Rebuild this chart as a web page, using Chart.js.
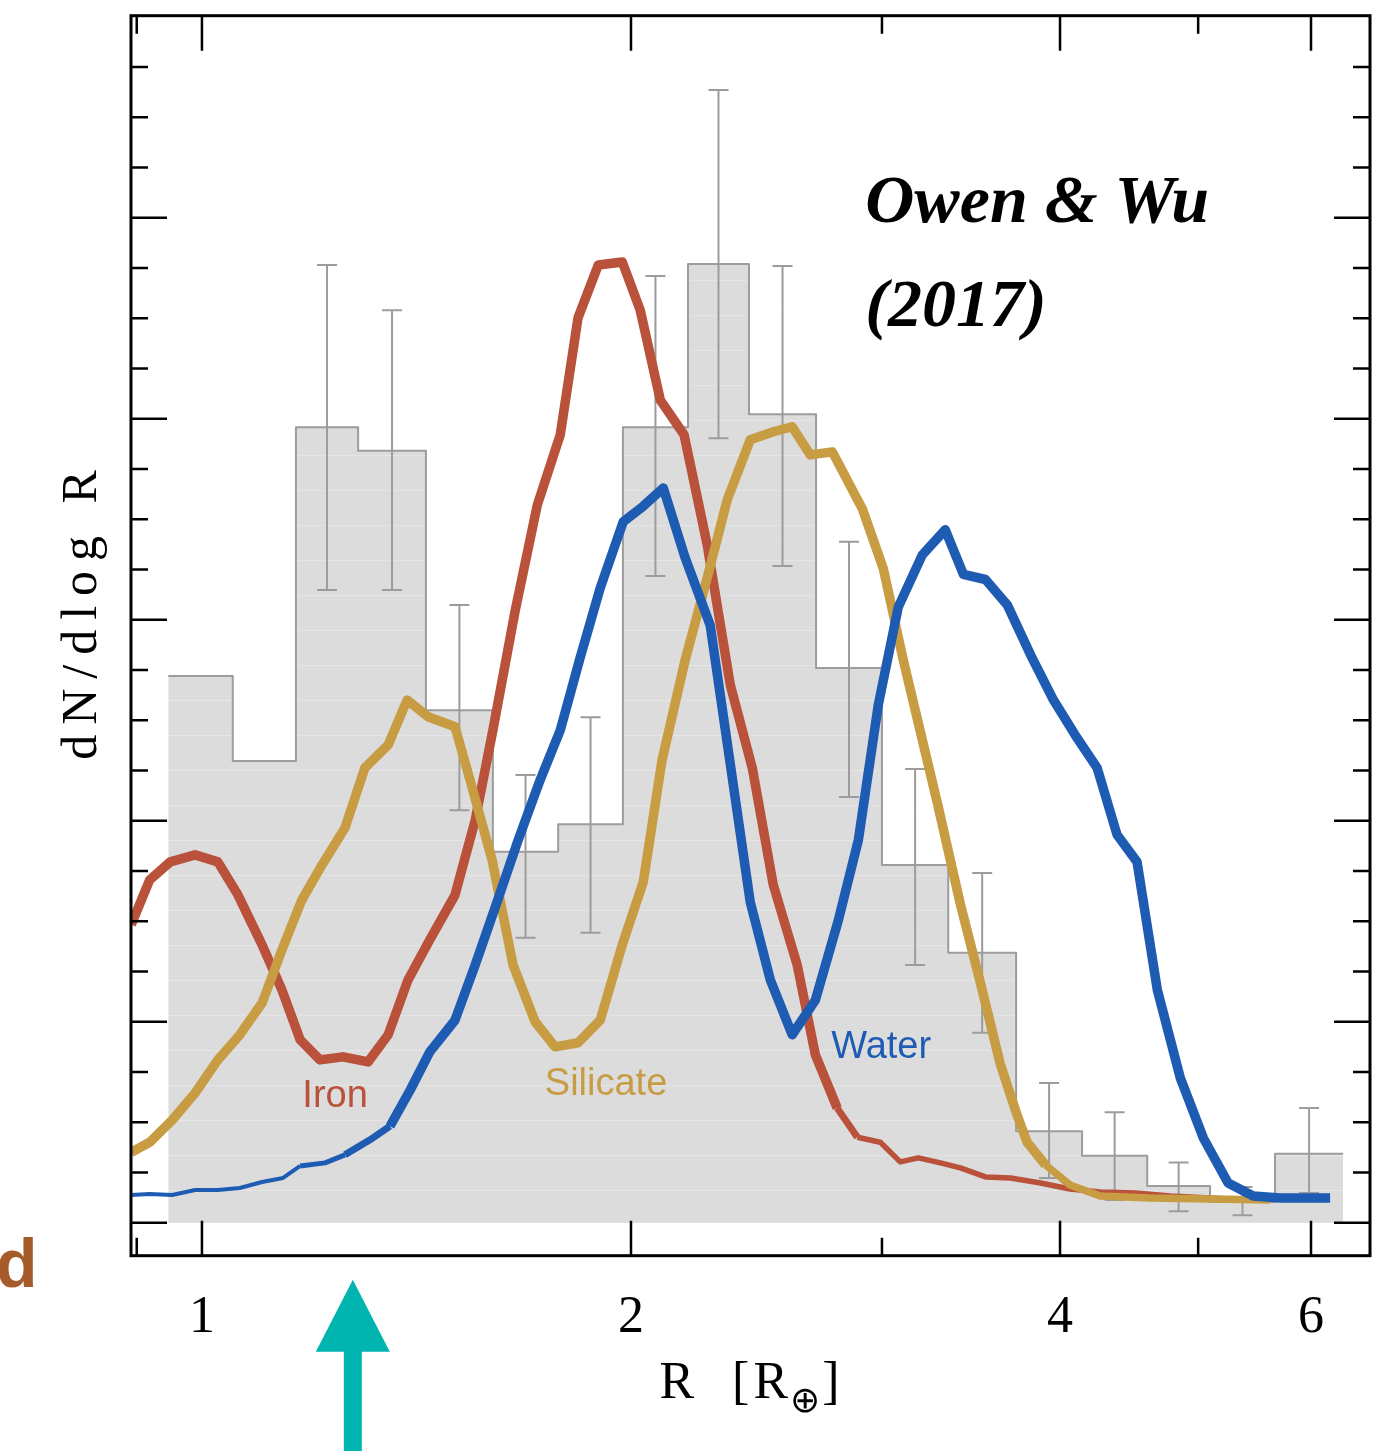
<!DOCTYPE html>
<html>
<head>
<meta charset="utf-8">
<title>Radius valley - Owen & Wu (2017)</title>
<script src="https://cdn.jsdelivr.net/npm/chart.js@4.4.1/dist/chart.umd.min.js"></script>
<style>
    html, body {
        margin: 0;
        padding: 0;
        background: #fff;
    }
    .wrap {
        width: 1393px;
        height: 1451px;
    }
</style>
</head>
<body>
<div class="wrap"><canvas id="radiusChart" width="1393" height="1451"></canvas></div>

<script>
// observed histogram, R in Earth radii
const binEdges = [0.947, 1.051, 1.164, 1.287, 1.436, 1.600, 1.778, 1.974, 2.193, 2.420, 2.697, 3.000, 3.339, 3.726, 4.145, 4.605, 5.097, 5.661, 6.320];
const binHeights = [10.88, 9.19, 15.83, 15.36, 10.20, 7.38, 7.93, 15.83, 19.08, 16.09, 11.04, 7.12, 5.37, 1.82, 1.33, 0.73, 0.41, 1.37];
const errLow = [null, null, 12.59, 12.59, 8.21, 5.67, 5.77, 12.87, 15.61, 13.07, 8.47, 5.13, 3.78, 0.89, 0.45, 0.23, 0.15, 0.59];
const errHigh = [null, null, 19.06, 18.16, 12.29, 8.91, 10.06, 18.84, 22.54, 19.04, 13.55, 9.03, 6.96, 2.78, 2.20, 1.20, 0.71, 2.28];

// model curves
const ironR = [0.892, 0.919, 0.950, 0.989, 1.026, 1.060, 1.102, 1.138, 1.172, 1.210, 1.256, 1.308, 1.351, 1.395, 1.445, 1.505, 1.555, 1.600, 1.659, 1.719, 1.784, 1.836, 1.897, 1.972, 2.030, 2.097, 2.179, 2.262, 2.348, 2.433, 2.517, 2.616, 2.694, 2.791, 2.883, 2.992, 3.090, 3.182, 3.297, 3.405, 3.546, 3.692, 3.876, 4.065, 4.268, 4.516, 4.780, 5.265, 5.617];
const ironN = [5.93, 6.82, 7.18, 7.32, 7.18, 6.52, 5.53, 4.63, 3.64, 3.24, 3.30, 3.20, 3.74, 4.83, 5.63, 6.52, 8.01, 9.80, 12.19, 14.28, 15.68, 18.01, 19.06, 19.12, 18.16, 16.37, 15.68, 13.49, 10.70, 9.05, 6.72, 5.13, 3.34, 2.28, 1.70, 1.60, 1.21, 1.29, 1.19, 1.09, 0.91, 0.89, 0.79, 0.67, 0.61, 0.59, 0.53, 0.47, 0.45];

const silicateR = [0.892, 0.919, 0.953, 0.989, 1.026, 1.063, 1.102, 1.138, 1.175, 1.214, 1.260, 1.301, 1.351, 1.393, 1.441, 1.505, 1.542, 1.598, 1.653, 1.713, 1.769, 1.836, 1.903, 1.972, 2.040, 2.103, 2.183, 2.262, 2.336, 2.425, 2.517, 2.595, 2.672, 2.769, 2.907, 3.007, 3.105, 3.281, 3.405, 3.516, 3.631, 3.732, 3.793, 3.907, 4.065, 4.268, 4.628, 5.617];
const silicateN = [1.40, 1.60, 2.04, 2.58, 3.24, 3.74, 4.37, 5.43, 6.42, 7.12, 7.86, 9.05, 9.51, 10.40, 10.07, 9.87, 8.81, 7.22, 5.13, 4.00, 3.50, 3.58, 4.03, 5.53, 6.78, 9.21, 11.20, 12.83, 14.38, 15.58, 15.74, 15.84, 15.28, 15.34, 14.20, 13.01, 11.20, 8.35, 6.34, 4.79, 3.17, 2.14, 1.60, 1.15, 0.75, 0.53, 0.49, 0.45];

const waterR = [0.892, 0.919, 0.953, 0.989, 1.026, 1.063, 1.102, 1.140, 1.172, 1.220, 1.260, 1.312, 1.355, 1.400, 1.445, 1.505, 1.555, 1.608, 1.667, 1.727, 1.784, 1.842, 1.903, 1.975, 2.040, 2.107, 2.183, 2.273, 2.425, 2.505, 2.595, 2.694, 2.796, 2.888, 2.982, 3.080, 3.202, 3.323, 3.422, 3.546, 3.674, 3.814, 3.958, 4.098, 4.247, 4.386, 4.530, 4.681, 4.858, 5.043, 5.248, 5.465, 5.709, 6.188];
const waterN = [0.55, 0.57, 0.55, 0.65, 0.65, 0.69, 0.81, 0.89, 1.13, 1.19, 1.35, 1.65, 1.92, 2.64, 3.40, 4.03, 5.13, 6.32, 7.62, 8.81, 9.80, 11.24, 12.63, 13.95, 14.26, 14.62, 13.23, 11.89, 6.38, 4.83, 3.74, 4.43, 6.02, 7.62, 10.30, 12.25, 13.29, 13.79, 12.90, 12.80, 12.29, 11.30, 10.40, 9.71, 9.05, 7.72, 7.18, 4.63, 2.88, 1.68, 0.79, 0.53, 0.49, 0.49];

// axes
const xTickValues = [0.9, 1, 2, 3, 4, 5, 6];
const xTickLabels = ['', '1', '2', '', '4', '', '6'];
const yTickValues = [0, 1, 2, 3, 4, 5, 6, 7, 8, 9, 10, 11, 12, 13, 14, 15, 16, 17, 18, 19, 20, 21, 22, 23];

const IRON = '#b9513b';
const SILICATE = '#c89c42';
const WATER = '#1e5cb4';
const HIST_LINE = '#9c9c9c';

// text annotations, placed in data coordinates
const curveLabels = [
    { text: 'Iron', r: 1.240, n: 2.30, color: IRON },
    { text: 'Silicate', r: 1.921, n: 2.54, color: SILICATE },
    { text: 'Water', r: 2.996, n: 3.28, color: WATER }
];
const refLines = [
    { text: 'Owen & Wu', r: 2.920, n: 19.92 },
    { text: '(2017)', r: 2.920, n: 17.85 }
];
const arrowR = 1.276;

const canvas = document.getElementById('radiusChart');

function zip(xs, ys) {
    return xs.map((x, i) => ({ x: x, y: ys[i] }));
}

function histFill() {
    // light grey with faint horizontal streaks, like the scanned figure
    const c = document.createElement('canvas');
    c.width = 8;
    c.height = 35;
    const g = c.getContext('2d');
    g.fillStyle = '#dcdcdc';
    g.fillRect(0, 0, 8, 35);
    g.fillStyle = '#e5e5e5';
    g.fillRect(0, 0, 8, 1);
    return canvas.getContext('2d').createPattern(c, 'repeat');
}

const histPoints = binEdges.map((e, i) => ({ x: e, y: binHeights[Math.min(i, binHeights.length - 1)] }));

const errorBars = {
    id: 'errorBars',
    afterDatasetDraw(chart, args) {
        if (args.index !== 3) return;
        const { ctx, scales: { x, y } } = chart;
        ctx.save();
        ctx.strokeStyle = HIST_LINE;
        ctx.lineWidth = 2;
        ctx.beginPath();
        errLow.forEach((lo, i) => {
            if (lo === null) return;
            const cx = x.getPixelForValue(Math.sqrt(binEdges[i] * binEdges[i + 1]));
            const yl = y.getPixelForValue(lo);
            const yh = y.getPixelForValue(errHigh[i]);
            ctx.moveTo(cx, yl); ctx.lineTo(cx, yh);
            ctx.moveTo(cx - 10, yl); ctx.lineTo(cx + 10, yl);
            ctx.moveTo(cx - 10, yh); ctx.lineTo(cx + 10, yh);
        });
        ctx.stroke();
        ctx.restore();
    }
};

const decorations = {
    id: 'decorations',
    afterDraw(chart) {
        const { ctx, chartArea: a, scales: { x, y } } = chart;
        ctx.save();

        // curve names
        ctx.textBaseline = 'alphabetic';
        ctx.textAlign = 'center';
        ctx.font = '38px "Liberation Sans", Arial, sans-serif';
        curveLabels.forEach(l => {
            ctx.fillStyle = l.color;
            ctx.fillText(l.text, x.getPixelForValue(l.r), y.getPixelForValue(l.n));
        });

        // reference
        ctx.textAlign = 'left';
        ctx.fillStyle = '#000';
        ctx.font = 'italic bold 68px "Liberation Serif", serif';
        refLines.forEach(l => {
            ctx.fillText(l.text, x.getPixelForValue(l.r), y.getPixelForValue(l.n));
        });

        // inward ticks on all four sides
        ctx.strokeStyle = '#000';
        ctx.lineWidth = 2.5;
        ctx.beginPath();
        xTickValues.forEach((v, i) => {
            const px = x.getPixelForValue(v);
            const len = xTickLabels[i] ? 35 : 18;
            ctx.moveTo(px, a.bottom); ctx.lineTo(px, a.bottom - len);
            ctx.moveTo(px, a.top); ctx.lineTo(px, a.top + len);
        });
        yTickValues.forEach(v => {
            const py = y.getPixelForValue(v);
            const len = v % 4 === 0 ? 36 : 17;
            ctx.moveTo(a.left, py); ctx.lineTo(a.left + len, py);
            ctx.moveTo(a.right, py); ctx.lineTo(a.right - len, py);
        });
        ctx.stroke();
        ctx.lineWidth = 3;
        ctx.strokeRect(a.left, a.top, a.right - a.left, a.bottom - a.top);

        // axis titles
        ctx.fillStyle = '#000';
        const cx = (a.left + a.right) / 2;
        const base = a.bottom + 142;
        const partA = 'R  [R';
        const subFont = '36px "DejaVu Sans", sans-serif';
        ctx.font = '52px "Liberation Serif", serif';
        ctx.letterSpacing = '4px';
        const wA = ctx.measureText(partA).width;
        ctx.letterSpacing = '0px';
        const wB = ctx.measureText(']').width;
        ctx.font = subFont;
        const wSub = ctx.measureText('\u2295').width;
        let tx = cx - (wA + wSub + wB + 2) / 2;
        ctx.font = '52px "Liberation Serif", serif';
        ctx.letterSpacing = '4px';
        ctx.fillText(partA, tx, base);
        tx += wA - 2;
        ctx.letterSpacing = '0px';
        ctx.font = subFont;
        ctx.fillText('\u2295', tx, base + 14);
        tx += wSub + 2;
        ctx.font = '52px "Liberation Serif", serif';
        ctx.fillText(']', tx, base);

        ctx.save();
        ctx.translate(96, 610);
        ctx.rotate(-Math.PI / 2);
        ctx.textAlign = 'center';
        ctx.letterSpacing = '10px';
        ctx.font = '50px "Liberation Serif", serif';
        ctx.fillText('dN/dlog R', 0, 0);
        ctx.restore();

        // panel letter
        ctx.textAlign = 'left';
        ctx.fillStyle = '#a65b2b';
        ctx.font = 'bold 68px "Liberation Sans", Arial, sans-serif';
        ctx.fillText('d', -4, a.bottom + 31);

        // arrow pointing at the valley edge
        const ax = x.getPixelForValue(arrowR);
        const tip = a.bottom + 24;
        const headBase = a.bottom + 96;
        ctx.fillStyle = '#00b5b0';
        ctx.beginPath();
        ctx.moveTo(ax, tip);
        ctx.lineTo(ax + 37, headBase);
        ctx.lineTo(ax + 9, headBase);
        ctx.lineTo(ax + 9, chart.height);
        ctx.lineTo(ax - 9, chart.height);
        ctx.lineTo(ax - 9, headBase);
        ctx.lineTo(ax - 37, headBase);
        ctx.closePath();
        ctx.fill();

        ctx.restore();
    }
};

new Chart(canvas, {
    type: 'line',
    data: {
        datasets: [{
            label: 'Iron',
            data: zip(ironR, ironN),
            borderColor: IRON,
            borderWidth: 9.5,
            segment: { borderWidth: c => c.p0.parsed.x >= 2.88 ? 5.5 : (c.p0.parsed.x >= 2.79 ? 7 : 9.5) },
            order: 3
        }, {
            label: 'Silicate',
            data: zip(silicateR, silicateN),
            borderColor: SILICATE,
            borderWidth: 9.5,
            segment: { borderWidth: c => c.p0.parsed.x >= 3.9 ? 7.5 : 9.5 },
            order: 2
        }, {
            label: 'Water',
            data: zip(waterR, waterN),
            borderColor: WATER,
            borderWidth: 9.5,
            segment: { borderWidth: c => c.p0.parsed.x < 1.17 ? 4 : (c.p0.parsed.x < 1.26 ? 5 : (c.p0.parsed.x < 1.35 ? 7 : 9.5)) },
            order: 1
        }, {
            label: 'Observed',
            data: histPoints,
            stepped: 'before',
            fill: 'origin',
            backgroundColor: histFill(),
            borderColor: HIST_LINE,
            borderWidth: 2,
            order: 10
        }]
    },
    options: {
        responsive: false,
        animation: false,
        devicePixelRatio: 1,
        layout: { padding: { top: 15.7, right: 23, left: 0, bottom: 0 } },
        elements: {
            point: { radius: 0 },
            line: { tension: 0, borderJoinStyle: 'round', borderCapStyle: 'butt' }
        },
        plugins: {
            legend: { display: false },
            tooltip: { enabled: false }
        },
        scales: {
            x: {
                type: 'logarithmic',
                min: 0.8917,
                max: 6.60,
                grid: { display: false },
                border: { display: false },
                afterBuildTicks: s => { s.ticks = xTickValues.map(v => ({ value: v })); },
                afterFit: s => { s.height = 195.3; },
                ticks: {
                    autoSkip: false,
                    maxRotation: 0,
                    padding: 23,
                    color: '#000',
                    font: { family: '"Liberation Serif", serif', size: 52 },
                    callback: (v, i) => xTickLabels[i]
                }
            },
            y: {
                type: 'linear',
                min: -0.657,
                max: 24.02,
                grid: { display: false },
                border: { display: false },
                ticks: { display: false },
                afterBuildTicks: s => { s.ticks = yTickValues.map(v => ({ value: v })); },
                afterFit: s => { s.width = 131; }
            }
        }
    },
    plugins: [errorBars, decorations]
});
</script>
</body>
</html>
